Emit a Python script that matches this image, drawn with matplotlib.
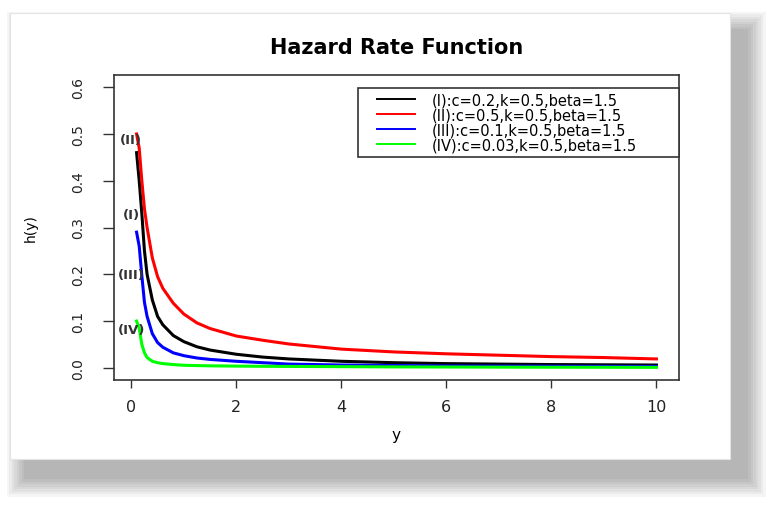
import matplotlib
matplotlib.use('Agg')
import matplotlib.pyplot as plt
from matplotlib.patches import Rectangle
from matplotlib.lines import Line2D
from matplotlib.legend_handler import HandlerLine2D

# values
y = [0.1, 0.15, 0.2, 0.25, 0.3, 0.4, 0.5, 0.6, 0.8, 1.0, 1.25, 1.5,
     2.0, 2.5, 3.0, 4.0, 5.0, 6.0, 7.0, 8.0, 9.0, 10.0]
h1 = [0.46, 0.40, 0.33, 0.25, 0.20, 0.145, 0.11, 0.092, 0.069, 0.056, 0.045, 0.038,
      0.029, 0.023, 0.019, 0.014, 0.011, 0.009, 0.008, 0.007, 0.0065, 0.006]
h2 = [0.50, 0.47, 0.40, 0.34, 0.30, 0.235, 0.195, 0.17, 0.138, 0.115, 0.096, 0.084,
      0.068, 0.059, 0.051, 0.040, 0.034, 0.030, 0.027, 0.024, 0.022, 0.019]
h3 = [0.29, 0.26, 0.197, 0.14, 0.11, 0.073, 0.054, 0.044, 0.032, 0.026, 0.021, 0.018,
      0.014, 0.011, 0.008, 0.006, 0.005, 0.004, 0.0037, 0.0034, 0.0032, 0.003]
h4 = [0.10, 0.085, 0.05, 0.032, 0.022, 0.014, 0.011, 0.009, 0.007, 0.0055, 0.0048, 0.0043,
      0.0037, 0.0033, 0.003, 0.0025, 0.002, 0.0018, 0.0015, 0.0013, 0.0012, 0.001]

labels = ['(I):c=0.2,k=0.5,beta=1.5', '(II):c=0.5,k=0.5,beta=1.5',
          '(III):c=0.1,k=0.5,beta=1.5', '(IV):c=0.03,k=0.5,beta=1.5']
tags = ['(I)', '(II)', '(III)', '(IV)']
tag_y = [0.327, 0.488, 0.2, 0.081]
colors = ['black', '#ff0000', '#0000ff', '#00ff00']

W, H = 771, 506
fig = plt.figure(figsize=(W / 100, H / 100), dpi=100)


def rect(x0, y0, x1, y1, **kw):
    # pixel box (top-down) -> figure fraction rectangle
    return Rectangle((x0 / W, 1 - y1 / H), (x1 - x0) / W, (y1 - y0) / H,
                     transform=fig.transFigure, **kw)


# soft drop shadow behind the "card"
for i in range(8):
    g = 2.5 * i
    fig.add_artist(rect(24 - g, 30 - g, 748 + g, 480 + g, facecolor='black',
                        edgecolor='none', alpha=0.04, zorder=-10))
fig.add_artist(rect(10, 14, 730, 460, facecolor='white', edgecolor='#e4e4e4',
                    lw=0.8, zorder=-5))

ax = fig.add_axes([114 / W, 1 - 381 / H, 565 / W, 305 / H])
for hv, c, lab in zip([h1, h2, h3, h4], colors, labels):
    ax.plot(y, hv, color=c, lw=2.2, label=lab)

for t, ty in zip(tags, tag_y):
    ax.text(0, ty, t, ha='center', va='center', fontsize=9.5, weight='bold', color='#333333')

ax.set_xlim(-0.33, 10.43)
ax.set_ylim(-0.026, 0.626)
ax.set_xticks([0, 2, 4, 6, 8, 10])
ax.set_yticks([0.0, 0.1, 0.2, 0.3, 0.4, 0.5, 0.6])
ax.set_yticklabels(['0.0', '0.1', '0.2', '0.3', '0.4', '0.5', '0.6'],
                   rotation=90, va='center')
ax.tick_params(axis='x', length=6, width=1, color='#333333', pad=8, labelsize=11.5,
               labelcolor='#222222')
ax.tick_params(axis='y', length=8, width=1, color='#333333', pad=13, labelsize=10,
               labelcolor='#222222')
for s in ax.spines.values():
    s.set_color('#333333')
    s.set_linewidth(1.2)

ax.set_title('Hazard Rate Function', fontsize=15, weight='bold', pad=16)
ax.set_xlabel('y', fontsize=11, labelpad=9)
ax.set_ylabel('h(y)', fontsize=10, labelpad=24)

leg = ax.legend(loc='upper left', bbox_to_anchor=(0.432, 0.957, 0.568, 0), mode='expand',
                borderaxespad=0, fontsize=10.5, labelspacing=0, handlelength=3.6,
                handletextpad=1.15, borderpad=0.3, fancybox=False, framealpha=1,
                edgecolor='#333333', handler_map={Line2D: HandlerLine2D(xpad=1.0)})
leg.get_frame().set_linewidth(1.2)
for ln in leg.get_lines():
    ln.set_linewidth(1.4)

fig.savefig('out.png', dpi=100)
